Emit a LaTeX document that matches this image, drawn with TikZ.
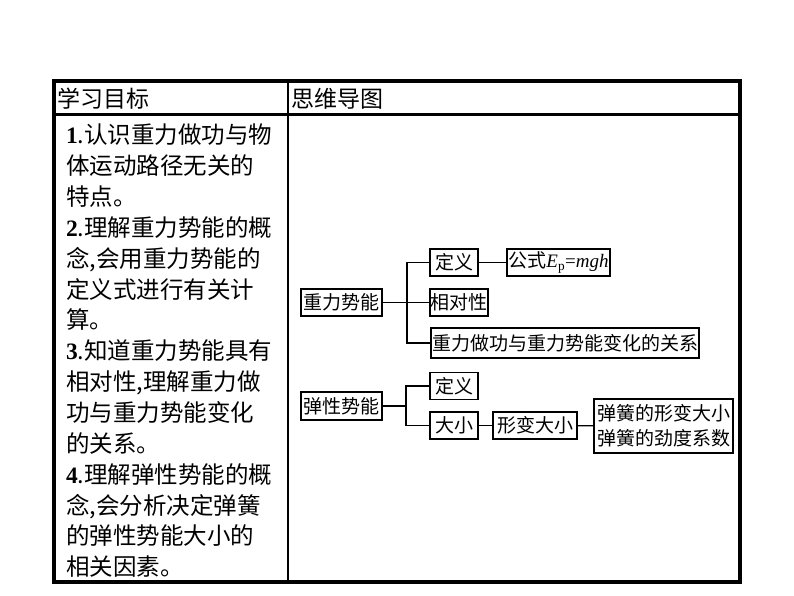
\documentclass[tikz,border=0pt]{standalone}
\usepackage{fontspec}
\setmainfont{Noto Sans CJK SC}
\newfontfamily\tnr{Liberation Serif}
\begin{document}
\begin{tikzpicture}[x=1pt,y=-1pt,
            box/.style = {draw, line width = 1.2pt, inner sep = 0pt, minimum height = 27pt, font = \fontsize{19}{25}\selectfont},
            link/.style = {line width = 1.2pt},
            head/.style = {inner sep = 0pt, anchor = base west, font = \fontsize{23}{25}\selectfont},
            goal/.style = {inner sep = 0pt, anchor = base west, font = \fontsize{23.5}{30}\selectfont}]
            \useasboundingbox (0,0) rectangle (794,596);

            %Table
            \draw [line width = 4.5pt] (54,81) rectangle (740,582);
            \draw [line width = 2.5pt] (54,114.5) -- (740,114.5);
            \draw [line width = 2pt] (288,81) -- (288,582);

            %Headers
            \node [head]
            (goalhead)at(57,107.5){学习目标};
            \node [head]
            (maphead)at(291,107.5){思维导图};

            %Goals
            \foreach \txt [count = \i from 0] in {
                {{\tnr\bfseries 1}.认识重力做功与物},
                {体运动路径无关的},
                {特点。},
                {{\tnr\bfseries 2}.理解重力势能的概},
                {念,会用重力势能的},
                {定义式进行有关计},
                {算。},
                {{\tnr\bfseries 3}.知道重力势能具有},
                {相对性,理解重力做},
                {功与重力势能变化},
                {的关系。},
                {{\tnr\bfseries 4}.理解弹性势能的概},
                {念,会分析决定弹簧},
                {的弹性势能大小的},
                {相关因素。}}
                \node [goal] (goal\i) at (66,{143.7+30.86*\i}) {\txt};

            %Gravitational potential energy
            \node [box, minimum width = 81pt]
            (gravity)at(341.5,302.5){重力势能};
            \node [box, minimum width = 48pt]
            (gdef)at(454,262.5){定义};
            \node [box, minimum width = 103pt]
            (formula)at(558.5,262.5){公式{\tnr\textit{E}\textsubscript{p}=\textit{mgh}}};
            \node [box, minimum width = 58pt]
            (relative)at(459,302.5){相对性};
            \node [box, minimum width = 268pt, minimum height = 30pt]
            (relation)at(565,343){重力做功与重力势能变化的关系};
            \coordinate (gfork) at (407,302.5);

            %Elastic potential energy
            \node [box, minimum width = 81pt, minimum height = 28pt]
            (elastic)at(341.5,406){弹性势能};
            \node [box, minimum width = 48pt]
            (edef)at(454,386){定义};
            \node [box, minimum width = 48pt]
            (size)at(454,425.5){大小};
            \node [box, minimum width = 84pt]
            (deform)at(535,425.5){形变大小};
            \node [box, minimum width = 139pt, minimum height = 54pt, align = center]
            (factors)at(663.5,426){弹簧的形变大小\\弹簧的劲度系数};
            \coordinate (efork) at (406,406);

            \draw [link](gravity)--(relative);
            \draw [link](gdef.west)-|(gfork)|-(relation.west);
            \draw [link](gdef)--(formula);

            \draw [link](elastic)--(efork);
            \draw [link](edef.west)-|(efork)|-(size.west);
            \draw [link](size)--(deform);
            \draw [link](deform)--(factors);

        \end{tikzpicture}
\end{document}
